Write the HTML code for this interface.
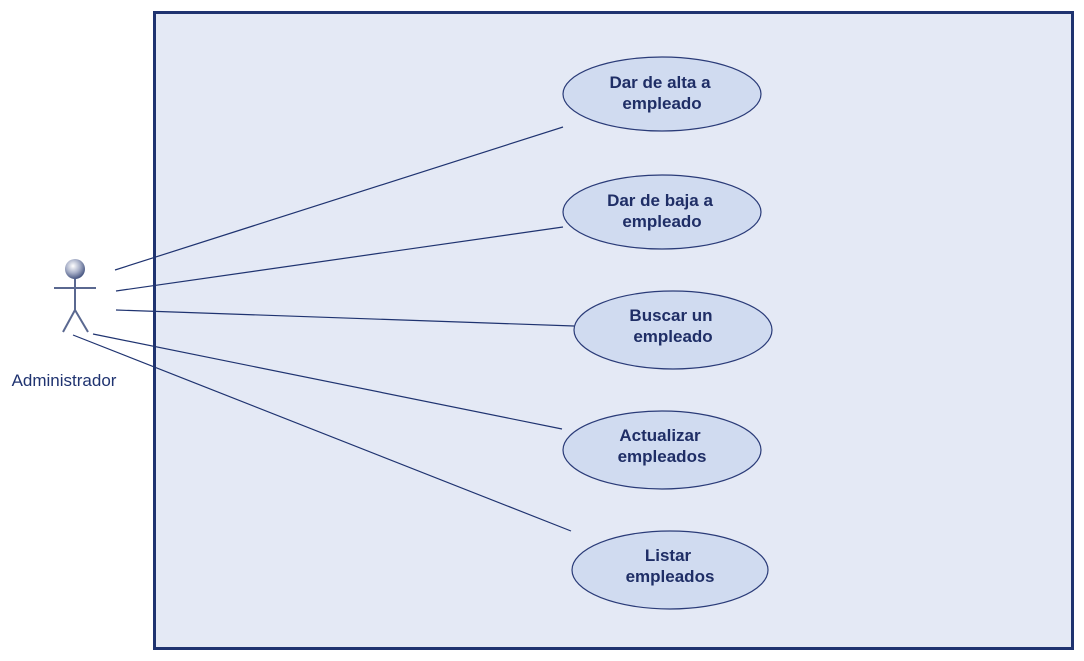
<!DOCTYPE html>
<html><head><style>body{margin:0;background:#fff}svg{display:block}</style></head><body>
<svg width="1084" height="661" xmlns="http://www.w3.org/2000/svg">
<defs><radialGradient id="g" cx="0.4" cy="0.35" r="0.7"><stop offset="0" stop-color="#ffffff"/><stop offset="0.5" stop-color="#a8b0c8"/><stop offset="1" stop-color="#3a4a78"/></radialGradient></defs>
<rect x="154.5" y="12.5" width="918" height="636" fill="#e4e9f5" stroke="#1f3370" stroke-width="3"/>
<g stroke="#1f3370" stroke-width="1.2">
<line x1="115" y1="270" x2="563" y2="127"/>
<line x1="116" y1="291" x2="563" y2="227"/>
<line x1="116" y1="310" x2="574" y2="326"/>
<line x1="93" y1="334" x2="562" y2="429"/>
<line x1="73" y1="335" x2="571" y2="531"/>
</g>
<g stroke="#5a6890" stroke-width="2" fill="none">
<line x1="54" y1="288" x2="96" y2="288"/>
<line x1="75" y1="279" x2="75" y2="310"/>
<line x1="75" y1="310" x2="63" y2="332"/>
<line x1="75" y1="310" x2="88" y2="332"/>
</g>
<circle cx="75" cy="269" r="10" fill="url(#g)"/>
<text x="64" y="386" text-anchor="middle" font-family="Liberation Sans, sans-serif" font-size="17" fill="#1f3370">Administrador</text>
<g fill="#d0dbf0" stroke="#2a3b78" stroke-width="1.2">
<ellipse cx="662" cy="94" rx="99" ry="37"/>
<ellipse cx="662" cy="212" rx="99" ry="37"/>
<ellipse cx="673" cy="330" rx="99" ry="39"/>
<ellipse cx="662" cy="450" rx="99" ry="39"/>
<ellipse cx="670" cy="570" rx="98" ry="39"/>
</g>
<g font-family="Liberation Sans, sans-serif" font-size="17" font-weight="bold" fill="#1f2e66" text-anchor="middle">
<text x="660" y="88">Dar de alta a</text><text x="662" y="109">empleado</text>
<text x="660" y="206">Dar de baja a</text><text x="662" y="227">empleado</text>
<text x="671" y="321">Buscar un</text><text x="673" y="342">empleado</text>
<text x="660" y="441">Actualizar</text><text x="662" y="462">empleados</text>
<text x="668" y="561">Listar</text><text x="670" y="582">empleados</text>
</g>
</svg>
</body></html>
